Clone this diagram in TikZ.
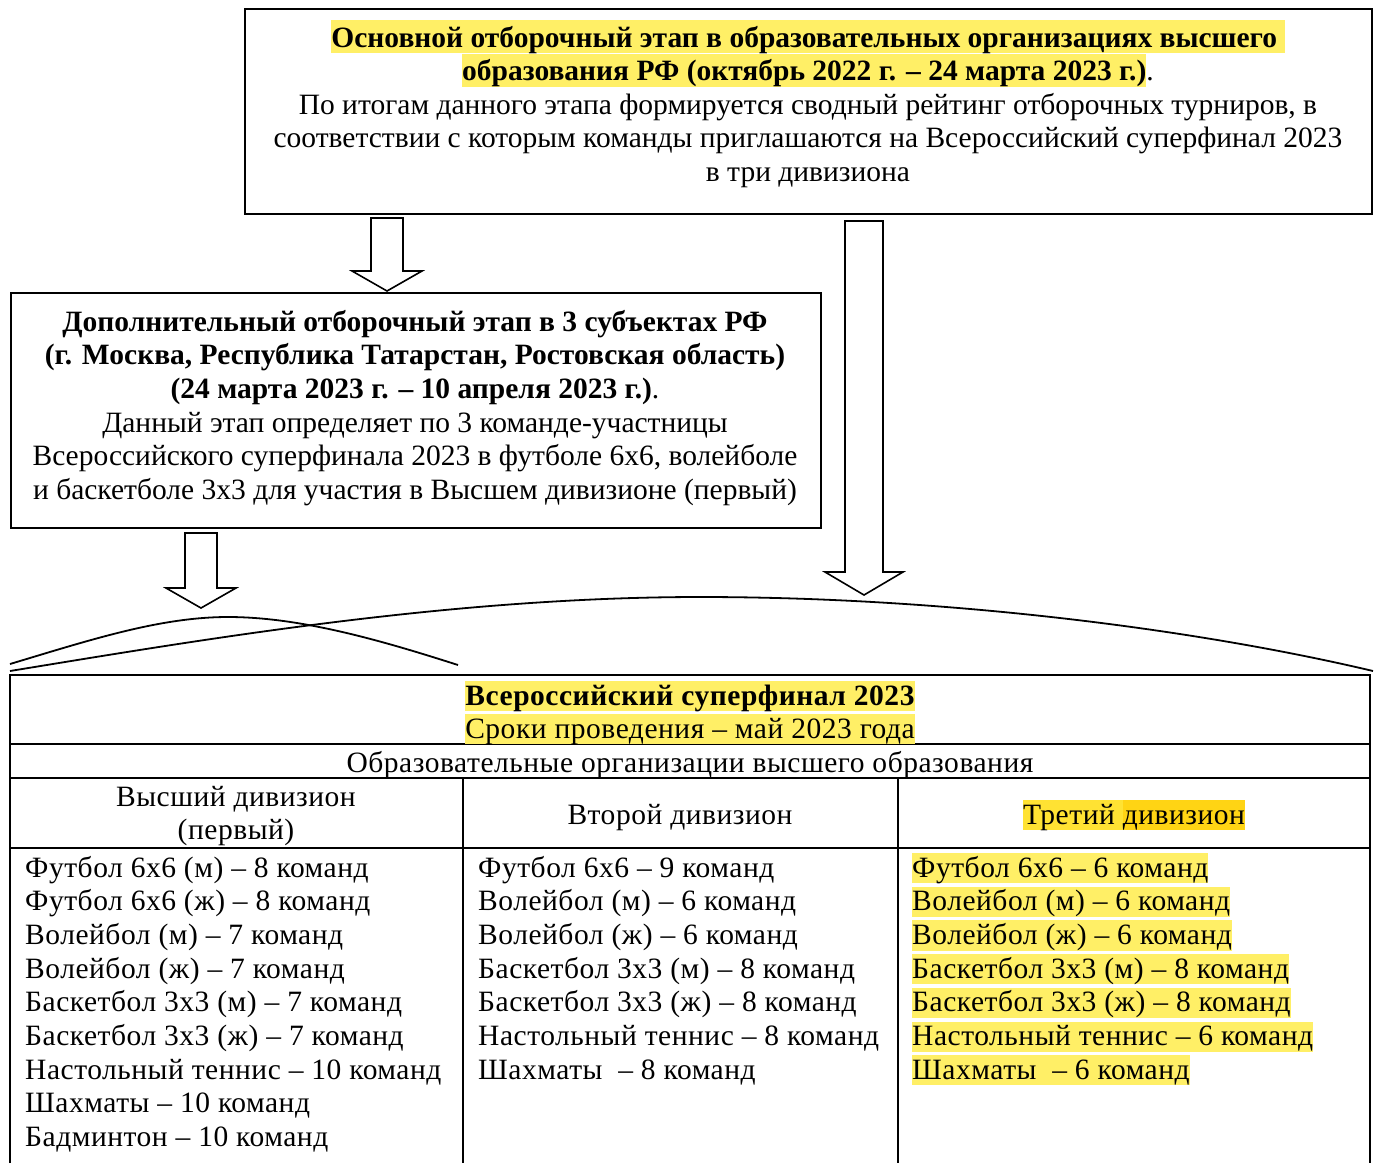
\documentclass[tikz,border=0pt]{standalone}
\usepackage{fontspec}
\setmainfont{Liberation Serif}
\newfontfamily\tablefont{Liberation Serif}[LetterSpace=1.8]
\usepackage{xcolor}
\usetikzlibrary{positioning,calc}

\definecolor{hlyellow}{HTML}{FFEF66}
\definecolor{hlgoldA}{HTML}{FFE233}
\definecolor{hlgoldB}{HTML}{FFD414}

\newcommand{\mainsize}{\fontsize{29.5}{33.6}\selectfont}
\newcommand{\tablesize}{\tablefont\fontsize{29.5}{33.6}\selectfont}
% highlighted text in the boxes and in the table
\newcommand{\hlmark}[1]{{\setlength{\fboxsep}{0pt}\colorbox{hlyellow}{\rule[-6pt]{0pt}{33pt}#1}}}
\newcommand{\hlcell}[2][hlyellow]{{\setlength{\fboxsep}{0pt}\colorbox{#1}{\rule[-6pt]{0pt}{30pt}#2}}}

\begin{document}
\begin{tikzpicture}[
    x=1pt, y=-1pt,
    panel/.style={rectangle, draw=black, line width=1.6pt, inner sep=0pt, anchor=north west},
    txt/.style={align=center, inner sep=0pt, font=\mainsize},
    celltxt/.style={align=center, inner sep=0pt, font=\tablesize},
    item/.style={anchor=base west, inner sep=0pt, font=\tablesize},
    head/.style={anchor=base, inner sep=0pt, font=\tablesize},
    hollow/.style={draw=black, line width=1.6pt, fill=white, miter limit=10},
    rule/.style={draw=black, line width=1.6pt},
    brace/.style={draw=black, line width=1.8pt}
]
    \useasboundingbox (0,0) rectangle (1376,1163);

    % stage boxes
    \node [panel, minimum width=1127pt, minimum height=205pt] (mainbox) at (244,8) {};
    \node [txt] (maintext) at (808,104) {%
        \textbf{\hlmark{Основной отборочный этап в образовательных организациях высшего }}\\
        \textbf{\hlmark{образования РФ (октябрь 2022 г. – 24 марта 2023 г.)}}.\\
        По итогам данного этапа формируется сводный рейтинг отборочных турниров, в\\
        соответствии с которым команды приглашаются на Всероссийский суперфинал 2023\\
        в три дивизиона};

    \node [panel, minimum width=810pt, minimum height=235pt] (extrabox) at (10,292) {};
    \node [txt] (extratext) at (415,408) {%
        \textbf{Дополнительный отборочный этап в 3 субъектах РФ}\\
        \textbf{(г. Москва, Республика Татарстан, Ростовская область)}\\
        \textbf{(24 марта 2023 г. – 10 апреля 2023 г.)}.\\
        Данный этап определяет по 3 команде-участницы\\
        Всероссийского суперфинала 2023 в футболе 6х6, волейболе\\
        и баскетболе 3х3 для участия в Высшем дивизионе (первый)};

    % hollow block arrows
    \foreach \ax/\ay/\at/\sw/\hw/\hd in {387/218/291/16/35/20, 864/221/595/19/39/23, 201/533/608/16/35/20}
        \draw [hollow] ({\ax-\sw},\ay) -- ({\ax+\sw},\ay) -- ({\ax+\sw},{\at-\hd}) -- ({\ax+\hw},{\at-\hd})
            -- (\ax,\at) -- ({\ax-\hw},{\at-\hd}) -- ({\ax-\sw},{\at-\hd}) -- cycle;

    % curved braces over the table
    \draw [brace] (10,664) .. controls (90,640) and (160,617) .. (228,617)
        .. controls (300,617) and (380,640) .. (458,665);
    \draw [brace] (10,671) .. controls (200,640) and (450,597) .. (700,597)
        .. controls (950,597) and (1200,630) .. (1373,671);

    % table grid
    \draw [rule] (10,1163) -- (10,675) -- (1370,675) -- (1370,1163);
    \foreach \ry in {744,778,848}
        \draw [rule] (10,\ry) -- (1370,\ry);
    \foreach \cx in {463,898}
        \draw [rule] (\cx,778) -- (\cx,1163);

    % table headings
    \node [head] (final) at (690,705) {\textbf{\hlcell{Всероссийский суперфинал 2023}}};
    \node [head] (dates) at (690,738) {\hlcell{Сроки проведения – май 2023 года}};
    \node [head] (orgs) at (690,772) {Образовательные организации высшего образования};
    \node [celltxt] (divA) at (236,816) {Высший дивизион\\(первый)};
    \node [head] (divB) at (680,824) {Второй дивизион};
    \node [head] (divC) at (1134,824) {\hlcell[hlgoldA]{Третий }\hlcell[hlgoldB]{дивизион}};

    % team lists
    \foreach \t [count=\i] in {Футбол 6х6 (м) – 8 команд, Футбол 6х6 (ж) – 8 команд,
        Волейбол (м) – 7 команд, Волейбол (ж) – 7 команд, Баскетбол 3х3 (м) – 7 команд,
        Баскетбол 3х3 (ж) – 7 команд, Настольный теннис – 10 команд, Шахматы – 10 команд,
        Бадминтон – 10 команд}
        \node [item] (colA-\i) at (25,{877+33.7*(\i-1)}) {\t};
    \foreach \t [count=\i] in {Футбол 6х6 – 9 команд, Волейбол (м) – 6 команд,
        Волейбол (ж) – 6 команд, Баскетбол 3х3 (м) – 8 команд, Баскетбол 3х3 (ж) – 8 команд,
        Настольный теннис – 8 команд, Шахматы~ – 8 команд}
        \node [item] (colB-\i) at (478,{877+33.7*(\i-1)}) {\t};
    \foreach \t [count=\i] in {Футбол 6х6 – 6 команд, Волейбол (м) – 6 команд,
        Волейбол (ж) – 6 команд, Баскетбол 3х3 (м) – 8 команд, Баскетбол 3х3 (ж) – 8 команд,
        Настольный теннис – 6 команд, Шахматы~ – 6 команд}
        \node [item] (colC-\i) at (912,{877+33.7*(\i-1)}) {\hlcell{\t}};
\end{tikzpicture}
\end{document}
